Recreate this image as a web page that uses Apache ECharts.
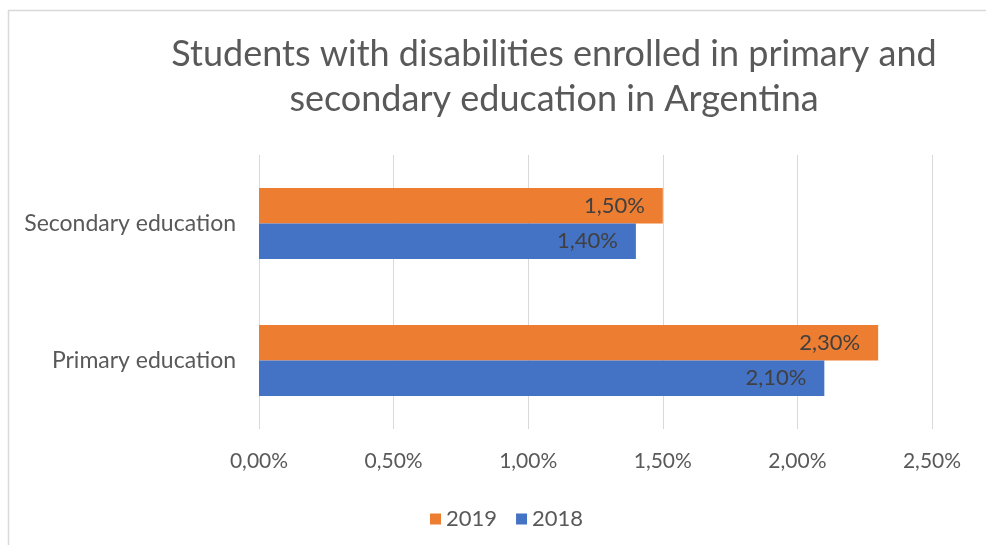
<!DOCTYPE html>
<html>
<head>
<meta charset="utf-8">
<style>
  html, body { margin: 0; padding: 0; background: #ffffff; }
  #chart { width: 986px; height: 545px; }
</style>
<script src="https://cdn.jsdelivr.net/npm/echarts@6/dist/echarts.min.js"></script>
</head>
<body>
<div id="chart"></div>
<script>
// Education levels (bottom to top on the category axis)
const categories = ['Primary education', 'Secondary education'];
// Share of students with disabilities, in percent
const values2018 = [2.1, 1.4];
const values2019 = [2.3, 1.5];
const tickMin = 0;
const tickMax = 2.5;
const tickStep = 0.5;

const FONT = 'Lato, "Open Sans", sans-serif';
const fmtPct = v => v.toFixed(2).replace('.', ',') + '%';

const chart = echarts.init(document.getElementById('chart'), null, { renderer: 'canvas' });

const barLabel = {
  show: true,
  position: 'insideRight',
  distance: 18,
  color: '#404040',
  fontFamily: FONT,
  fontSize: 22,
  formatter: p => fmtPct(p.value)
};

chart.setOption({
  backgroundColor: '#ffffff',
  animation: false,
  graphic: [{
    type: 'rect',
    shape: { x: 8.5, y: 10.5, width: 1000, height: 600 },
    style: { fill: 'none', stroke: '#d9d9d9', lineWidth: 1.5 },
    silent: true
  }],
  title: {
    text: 'Students with disabilities enrolled in primary and\nsecondary education in Argentina',
    left: 549,
    top: 27,
    textAlign: 'center',
    textStyle: {
      fontFamily: FONT,
      fontSize: 36,
      fontWeight: 'normal',
      color: '#595959',
      lineHeight: 45
    }
  },
  legend: {
    data: ['2019', '2018'],
    left: 425,
    top: 503,
    itemWidth: 11,
    itemHeight: 11,
    itemGap: 19,
    icon: 'rect',
    textStyle: { fontFamily: FONT, fontSize: 22, color: '#595959' }
  },
  grid: { left: 259, right: 54, top: 155, bottom: 116, containLabel: false },
  xAxis: {
    type: 'value',
    min: tickMin,
    max: tickMax,
    interval: tickStep,
    axisLine: { show: false },
    axisTick: { show: false },
    splitLine: { lineStyle: { color: '#d9d9d9', width: 1 } },
    axisLabel: {
      formatter: fmtPct,
      margin: 22,
      fontFamily: FONT,
      fontSize: 21,
      color: '#595959'
    }
  },
  yAxis: {
    type: 'category',
    data: categories,
    axisLine: { show: false },
    axisTick: { show: false },
    axisLabel: {
      margin: 23,
      fontFamily: FONT,
      fontSize: 23,
      color: '#595959'
    }
  },
  series: [
    {
      name: '2019',
      type: 'bar',
      data: values2019,
      barCategoryGap: '48%',
      barGap: '0%',
      itemStyle: { color: '#ED7D31' },
      label: barLabel
    },
    {
      name: '2018',
      type: 'bar',
      data: values2018,
      barCategoryGap: '48%',
      barGap: '0%',
      itemStyle: { color: '#4472C4' },
      label: barLabel
    }
  ]
});
</script>
</body>
</html>
